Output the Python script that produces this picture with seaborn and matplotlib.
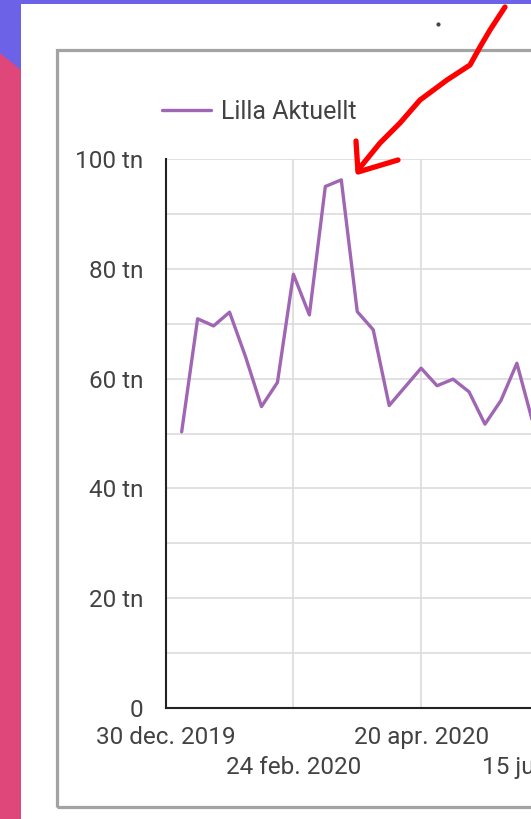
import pandas as pd
import numpy as np
import matplotlib
matplotlib.use("Agg")
import matplotlib.pyplot as plt
import matplotlib.dates as mdates
from matplotlib.patches import Rectangle, Polygon
from matplotlib.lines import Line2D
from matplotlib.ticker import MultipleLocator, FixedLocator
import seaborn as sns

# weekly values (tn), first week 6 jan 2020
weeks = pd.date_range("2020-01-06", periods=24, freq="7D")
values = [50.3, 70.9, 69.6, 72.1, 64.0, 54.9, 59.3, 79.0, 71.6, 95.0, 96.2, 72.2,
          68.9, 55.1, 58.5, 61.9, 58.7, 59.9, 57.6, 51.7, 56.0, 62.8, 52.0, 49.0]
series_name = "Lilla Aktuellt"
tick_dates = pd.date_range("2019-12-30", periods=5, freq="56D")
tick_labels = ["30 dec. 2019", "24 feb. 2020", "20 apr. 2020", "15 jun. 2020", "10 aug. 2020"]
y_ticks = [0, 20, 40, 60, 80, 100]
y_labels = ["0", "20 tn", "40 tn", "60 tn", "80 tn", "100 tn"]

df = pd.DataFrame({"uge": weeks, "visninger": values})

sns.set_style("white")
plt.rcParams['font.family'] = ['Roboto', 'DejaVu Sans']

W, H = 531, 819
def fx(x):
    return x / W
def fy(y):
    return 1 - y / H

fig = plt.figure(figsize=(W / 100, H / 100), dpi=100, facecolor="#6c62e8")

# page decoration: white card, pink strip, grey frame (below the axes)
fig.patches.append(Rectangle((fx(21), 0), 1, fy(4), transform=fig.transFigure,
                             facecolor="white", edgecolor="none", zorder=-3))
fig.patches.append(Polygon([(0, fy(53)), (fx(21), fy(70)), (fx(21), 0), (0, 0)],
                           closed=True, transform=fig.transFigure,
                           facecolor="#df4679", edgecolor="none", zorder=-3))
fig.patches.append(Rectangle((fx(56.5), fy(806.5)), 1, fy(50) - fy(806.5),
                             transform=fig.transFigure, fill=False,
                             edgecolor="#a3a3a3", linewidth=2.3, zorder=-2))

left, right_px = 165.7, 165.7 + 224 * 127.7 / 56
ax = fig.add_axes([fx(left), fy(708), fx(right_px - left), fy(159) - fy(708)])
ax.set_facecolor("white")

sns.lineplot(data=df, x="uge", y="visninger", ax=ax, color="#a066b4",
             linewidth=2.4, label=series_name)

ax.set_xlim(pd.Timestamp("2019-12-30"), pd.Timestamp("2020-08-10"))
ax.set_ylim(0, 100)
ax.xaxis.set_major_locator(FixedLocator(mdates.date2num(tick_dates)))
ax.set_xticklabels([lab if i % 2 == 0 else "\n" + lab for i, lab in enumerate(tick_labels)],
                   linespacing=1.4)
ax.set_yticks(y_ticks)
ax.set_yticklabels(y_labels)
ax.yaxis.set_minor_locator(MultipleLocator(10))
ax.grid(True, which="major", color="#dcdcdc", linewidth=1.2)
ax.grid(True, which="minor", axis="y", color="#dcdcdc", linewidth=1.2)
ax.set_axisbelow(True)
ax.tick_params(axis="both", which="both", length=0, labelsize=17.5, colors="#424242")
ax.tick_params(axis="x", pad=13)
ax.tick_params(axis="y", pad=16)
ax.set_xlabel("")
ax.set_ylabel("")
for s in ["top", "right"]:
    ax.spines[s].set_visible(False)
for s in ["left", "bottom"]:
    ax.spines[s].set_color("#222222")
    ax.spines[s].set_linewidth(1.5)

ax.legend(loc="center left", bbox_to_anchor=(fx(162), fy(112)),
          bbox_transform=fig.transFigure, frameon=False, fontsize=18,
          handlelength=1.95, handletextpad=0.4, borderpad=0, borderaxespad=0,
          labelcolor="#424242")

# hand drawn red arrow
shaft = [(505, 7), (490, 30), (480, 47), (470, 65), (447, 80), (420, 100),
         (400, 123), (380, 143), (358, 170)]
head = [(356, 141), (358, 172), (398, 160)]
for pts in (shaft, head):
    fig.add_artist(Line2D([fx(p[0]) for p in pts], [fy(p[1]) for p in pts],
                          transform=fig.transFigure, color="#ff0000", linewidth=3.8,
                          solid_capstyle="round", solid_joinstyle="round", zorder=5))
fig.add_artist(Line2D([fx(438)], [fy(24)], transform=fig.transFigure, marker="o",
                      markersize=2, color="#444444", linestyle="none"))

fig.savefig("out.png", dpi=100, facecolor=fig.get_facecolor())
